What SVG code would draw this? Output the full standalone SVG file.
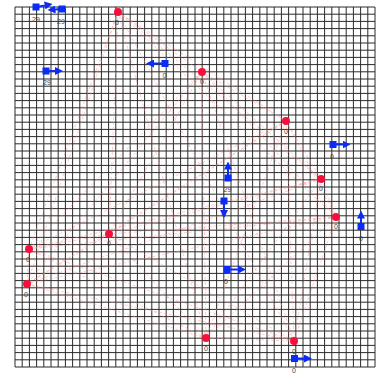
<svg xmlns="http://www.w3.org/2000/svg" width="380" height="378" viewBox="0 0 380 378">
<style>
.grid{fill:none;stroke:#2a2a2a;stroke-width:1}
.edge{stroke:#ff8c8c;stroke-width:1;stroke-dasharray:3 2;stroke-opacity:0.45;fill:none}
.pt{fill:#f5103c}
.sq{fill:#0a2cf5}
.vec{stroke:#0a2cf5;stroke-width:2;marker-end:url(#ah)}
.lbl{font-family:"Liberation Sans",Arial,sans-serif;font-size:7px;fill:#444;text-anchor:middle}
</style>
<defs>
<marker id="ah" markerUnits="userSpaceOnUse" markerWidth="8" markerHeight="8" viewBox="0 0 8 8" refX="0.5" refY="4" orient="auto">
<path d="M0,0 L8,4 L0,8 z" fill="#0a2cf5"/>
</marker>
</defs>
<rect width="380" height="378" fill="#fff"/>
<g id="grid">
<path class="grid" d="M15,7V367M22.2,7V367M29.4,7V367M36.6,7V367M43.8,7V367M51,7V367M58.2,7V367M65.4,7V367M72.6,7V367M79.8,7V367M87,7V367M94.2,7V367M101.4,7V367M108.6,7V367M115.8,7V367M123,7V367M130.2,7V367M137.4,7V367M144.6,7V367M151.8,7V367M159,7V367M166.2,7V367M173.4,7V367M180.6,7V367M187.8,7V367M195,7V367M202.2,7V367M209.4,7V367M216.6,7V367M223.8,7V367M231,7V367M238.2,7V367M245.4,7V367M252.6,7V367M259.8,7V367M267,7V367M274.2,7V367M281.4,7V367M288.6,7V367M295.8,7V367M303,7V367M310.2,7V367M317.4,7V367M324.6,7V367M331.8,7V367M339,7V367M346.2,7V367M353.4,7V367M360.6,7V367M367.8,7V367M375,7V367
M15,7H375M15,14.2H375M15,21.4H375M15,28.6H375M15,35.8H375M15,43H375M15,50.2H375M15,57.4H375M15,64.6H375M15,71.8H375M15,79H375M15,86.2H375M15,93.4H375M15,100.6H375M15,107.8H375M15,115H375M15,122.2H375M15,129.4H375M15,136.6H375M15,143.8H375M15,151H375M15,158.2H375M15,165.4H375M15,172.6H375M15,179.8H375M15,187H375M15,194.2H375M15,201.4H375M15,208.6H375M15,215.8H375M15,223H375M15,230.2H375M15,237.4H375M15,244.6H375M15,251.8H375M15,259H375M15,266.2H375M15,273.4H375M15,280.6H375M15,287.8H375M15,295H375M15,302.2H375M15,309.4H375M15,316.6H375M15,323.8H375M15,331H375M15,338.2H375M15,345.4H375M15,352.6H375M15,359.8H375M15,367H375"/>
</g>
<g id="connectors">
<path class="edge" d="M118,12L202,72M118,12L286,121M118,12L321,179M118,12L336,217M118,12L29,249M118,12L109,234M118,12L27,284M118,12L206,338M118,12L294,341
M202,72L286,121M202,72L321,179M202,72L336,217M202,72L29,249M202,72L109,234M202,72L27,284M202,72L206,338M202,72L294,341
M286,121L321,179M286,121L336,217M286,121L29,249M286,121L109,234M286,121L27,284M286,121L206,338M286,121L294,341
M321,179L336,217M321,179L29,249M321,179L109,234M321,179L27,284M321,179L206,338M321,179L294,341
M336,217L29,249M336,217L109,234M336,217L27,284M336,217L206,338M336,217L294,341
M29,249L109,234M29,249L27,284M29,249L206,338M29,249L294,341
M109,234L27,284M109,234L206,338M109,234L294,341
M27,284L206,338M27,284L294,341
M206,338L294,341"/>
</g>
<g id="p1"><circle class="pt" cx="118" cy="12" r="4"/><text class="lbl" x="117" y="24.5">0</text></g>
<g id="p2"><circle class="pt" cx="202" cy="72" r="4"/><text class="lbl" x="202" y="83.5">0</text></g>
<g id="p3"><circle class="pt" cx="286" cy="121" r="4"/><text class="lbl" x="286" y="134">0</text></g>
<g id="p4"><circle class="pt" cx="321" cy="179" r="4"/><text class="lbl" x="321" y="191">0</text></g>
<g id="p5"><circle class="pt" cx="336" cy="217" r="4"/><text class="lbl" x="336" y="229">0</text></g>
<g id="p6"><circle class="pt" cx="29" cy="249" r="4"/><text class="lbl" x="28" y="262">0</text></g>
<g id="p7"><circle class="pt" cx="109" cy="234" r="4"/><text class="lbl" x="109" y="246">0</text></g>
<g id="p8"><circle class="pt" cx="27" cy="284" r="4"/><text class="lbl" x="26" y="297">0</text></g>
<g id="p9"><circle class="pt" cx="206" cy="338" r="4"/><text class="lbl" x="206" y="351">0</text></g>
<g id="p10"><circle class="pt" cx="294" cy="341" r="4"/><text class="lbl" x="294" y="354">0</text></g>
<g id="a1"><line class="vec" x1="36" y1="7" x2="45.2" y2="5.4"/><rect class="sq" x="32.5" y="3.5" width="7" height="7"/><text class="lbl" x="36" y="22">29</text></g>
<g id="a2"><line class="vec" x1="62" y1="9" x2="55" y2="9.5"/><rect class="sq" x="58.5" y="5.5" width="7" height="7"/><text class="lbl" x="61" y="23.5">29</text></g>
<g id="a3"><line class="vec" x1="46" y1="71" x2="55.5" y2="71"/><rect class="sq" x="42.5" y="67.5" width="7" height="7"/><text class="lbl" x="47" y="85">29</text></g>
<g id="a4"><line class="vec" x1="165" y1="63.5" x2="153.5" y2="63.5"/><rect class="sq" x="161.5" y="60" width="7" height="7"/><text class="lbl" x="164.5" y="77.5">0</text></g>
<g id="a5"><line class="vec" x1="333" y1="144.5" x2="343" y2="144.5"/><rect class="sq" x="329.5" y="141" width="7" height="7"/><text class="lbl" x="332" y="159">0</text></g>
<g id="a6"><line class="vec" x1="228" y1="178" x2="228" y2="169"/><rect class="sq" x="224.5" y="174.5" width="7" height="7"/><text class="lbl" x="227.5" y="192">29</text></g>
<g id="a7"><text class="lbl" x="224" y="216.5">0</text><line class="vec" x1="224" y1="201" x2="224" y2="210.5"/><rect class="sq" x="220.5" y="197.5" width="7" height="7"/></g>
<g id="a8"><line class="vec" x1="227" y1="269.5" x2="238.5" y2="269.5"/><rect class="sq" x="223.5" y="266" width="7" height="7"/><text class="lbl" x="226" y="283.5">0</text></g>
<g id="a9"><line class="vec" x1="361" y1="226.5" x2="361" y2="218"/><rect class="sq" x="357.5" y="223" width="7" height="7"/><text class="lbl" x="361" y="241">0</text></g>
<g id="a10"><line class="vec" x1="294.5" y1="358.5" x2="304.5" y2="358.5"/><rect class="sq" x="291" y="355" width="7" height="7"/><text class="lbl" x="294" y="372.5">0</text></g>
</svg>
